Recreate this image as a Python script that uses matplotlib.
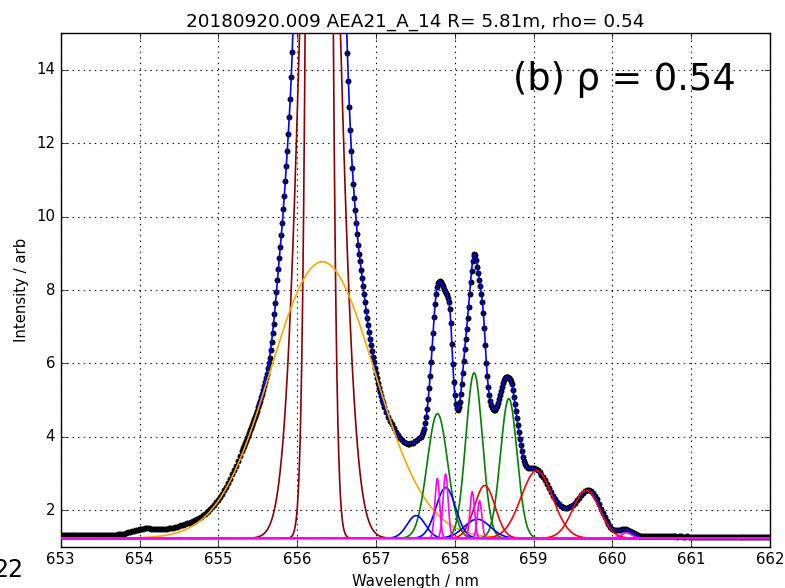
import numpy as np
import matplotlib
matplotlib.use("Agg")
import matplotlib.pyplot as plt

plt.style.use("classic")
plt.rcParams["font.family"] = ["DejaVu Sans"]

# ---------------- measured spectrum (black dots) ----------------
lam_tail_left = [653.000, 653.025, 653.050, 653.075, 653.100, 653.125, 653.150, 653.175, 653.200, 653.225,
                 653.250, 653.275, 653.300, 653.325, 653.350, 653.375, 653.400, 653.425, 653.450, 653.475,
                 653.500, 653.525, 653.550, 653.575, 653.600, 653.625, 653.650, 653.675, 653.700, 653.725,
                 653.750, 653.775, 653.800, 653.825, 653.850, 653.875, 653.900, 653.925, 653.950, 653.975,
                 654.000, 654.025, 654.050, 654.075, 654.100, 654.125, 654.150, 654.175, 654.200, 654.225,
                 654.250, 654.275, 654.300, 654.325, 654.350, 654.375, 654.400, 654.425, 654.450, 654.475,
                 654.500, 654.525, 654.550, 654.575, 654.600, 654.625, 654.650, 654.675, 654.700, 654.725,
                 654.750, 654.775, 654.800, 654.825, 654.850, 654.875, 654.900, 654.925, 654.950, 654.975]
int_tail_left = [1.33, 1.33, 1.33, 1.33, 1.33, 1.32, 1.32, 1.32, 1.32, 1.32,
                 1.32, 1.32, 1.32, 1.31, 1.31, 1.31, 1.31, 1.31, 1.31, 1.32,
                 1.32, 1.32, 1.32, 1.32, 1.32, 1.33, 1.33, 1.33, 1.33, 1.34,
                 1.34, 1.35, 1.36, 1.37, 1.39, 1.40, 1.42, 1.44, 1.45, 1.46,
                 1.47, 1.48, 1.49, 1.50, 1.50, 1.50, 1.49, 1.49, 1.48, 1.47,
                 1.47, 1.47, 1.47, 1.48, 1.49, 1.50, 1.51, 1.52, 1.54, 1.55,
                 1.57, 1.58, 1.60, 1.62, 1.64, 1.66, 1.68, 1.70, 1.73, 1.76,
                 1.79, 1.82, 1.86, 1.90, 1.94, 1.98, 2.03, 2.09, 2.15, 2.21]

lam_wing_left = [655.000, 655.025, 655.050, 655.075, 655.100, 655.125, 655.150, 655.175, 655.200,
                 655.225, 655.250, 655.275, 655.300]
int_wing_left = [2.28, 2.36, 2.45, 2.54, 2.64, 2.74, 2.85, 2.97, 3.09, 3.21, 3.34, 3.47, 3.61]

lam_halpha_left = [655.3125, 655.3250, 655.3375, 655.3500, 655.3625, 655.3750, 655.3875, 655.4000,
                   655.4125, 655.4250, 655.4375, 655.4500, 655.4625, 655.4750, 655.4875, 655.5000,
                   655.5125, 655.5250, 655.5375, 655.5500, 655.5625, 655.5750, 655.5875, 655.6000,
                   655.6125, 655.6250, 655.6375, 655.6500, 655.6625, 655.6750, 655.6875, 655.7000,
                   655.7125, 655.7250, 655.7375, 655.7500, 655.7625, 655.7750, 655.7875, 655.8000,
                   655.8125, 655.8250, 655.8375, 655.8500, 655.8625, 655.8750, 655.8875, 655.9000,
                   655.9125, 655.9250, 655.9375, 655.9500]
int_halpha_left = [3.68, 3.75, 3.82, 3.89, 3.96, 4.03, 4.10, 4.17,
                   4.25, 4.32, 4.40, 4.47, 4.55, 4.63, 4.71, 4.80,
                   4.89, 4.98, 5.07, 5.17, 5.27, 5.38, 5.49, 5.60,
                   5.72, 5.86, 6.00, 6.15, 6.36, 6.58, 6.82, 7.07,
                   7.34, 7.64, 7.95, 8.26, 8.56, 8.87, 9.18, 9.50,
                   9.84, 10.20, 10.57, 10.96, 11.37, 11.80, 12.25, 12.72,
                   13.22, 13.80, 14.48, 15.30]

lam_halpha_right = [656.6250, 656.6375, 656.6500, 656.6625, 656.6750, 656.6875, 656.7000, 656.7125,
                    656.7250, 656.7375, 656.7500, 656.7625, 656.7750, 656.7875, 656.8000, 656.8125,
                    656.8250, 656.8375, 656.8500, 656.8625, 656.8750, 656.8875, 656.9000, 656.9125,
                    656.9250, 656.9375, 656.9500, 656.9625, 656.9750, 656.9875, 657.0000, 657.0125,
                    657.0250, 657.0375, 657.0500, 657.0625, 657.0750, 657.0875, 657.1000]
int_halpha_right = [15.40, 14.45, 13.70, 12.98, 12.36, 11.80, 11.32, 10.90,
                    10.52, 10.17, 9.84, 9.53, 9.24, 8.99, 8.78, 8.55,
                    8.32, 8.10, 7.88, 7.66, 7.44, 7.23, 7.04, 6.85,
                    6.67, 6.50, 6.34, 6.18, 6.03, 5.88, 5.74, 5.60,
                    5.47, 5.34, 5.22, 5.11, 5.01, 4.91, 4.82]

lam_valley = [657.125, 657.150, 657.175, 657.200, 657.225, 657.250, 657.275, 657.300, 657.325,
              657.350, 657.375, 657.400, 657.425, 657.450, 657.475, 657.500, 657.525, 657.550,
              657.575]
int_valley = [4.67, 4.55, 4.44, 4.34, 4.24, 4.14, 4.05, 3.97, 3.91,
              3.86, 3.83, 3.81, 3.81, 3.82, 3.84, 3.87, 3.91, 3.96,
              4.00]

lam_cluster = [657.5875, 657.6000, 657.6125, 657.6250, 657.6375, 657.6500, 657.6625, 657.6750,
               657.6875, 657.7000, 657.7125, 657.7250, 657.7375, 657.7500, 657.7625, 657.7750,
               657.7875, 657.8000, 657.8125, 657.8250, 657.8375, 657.8500, 657.8625, 657.8750,
               657.8875, 657.9000, 657.9125, 657.9250, 657.9375, 657.9500, 657.9625, 657.9750,
               657.9875, 658.0000, 658.0125, 658.0250, 658.0375, 658.0500, 658.0625, 658.0750,
               658.0875, 658.1000, 658.1125, 658.1250, 658.1375, 658.1500, 658.1625, 658.1750,
               658.1875, 658.2000, 658.2125, 658.2250, 658.2375, 658.2500, 658.2625, 658.2750,
               658.2875, 658.3000, 658.3125, 658.3250, 658.3375, 658.3500, 658.3625, 658.3750,
               658.3875, 658.4000, 658.4125, 658.4250, 658.4375, 658.4500, 658.4625, 658.4750,
               658.4875, 658.5000, 658.5125, 658.5250, 658.5375, 658.5500, 658.5625, 658.5750,
               658.5875, 658.6000, 658.6125, 658.6250, 658.6375, 658.6500, 658.6625, 658.6750,
               658.6875, 658.7000, 658.7125, 658.7250, 658.7375, 658.7500, 658.7625, 658.7750,
               658.7875, 658.8000, 658.8125, 658.8250, 658.8375, 658.8500, 658.8625, 658.8750,
               658.8875, 658.9000]
int_cluster = [4.05, 4.12, 4.22, 4.36, 4.54, 4.76, 5.02, 5.32,
               5.66, 6.03, 6.42, 6.84, 7.26, 7.62, 7.90, 8.08,
               8.18, 8.23, 8.24, 8.21, 8.16, 8.10, 8.04, 7.98,
               7.92, 7.86, 7.79, 7.68, 7.48, 7.10, 6.52, 5.98,
               5.50, 5.13, 4.90, 4.77, 4.74, 4.80, 4.95, 5.17,
               5.44, 5.75, 6.07, 6.38, 6.66, 6.94, 7.24, 7.55,
               7.88, 8.22, 8.52, 8.78, 8.94, 8.99, 8.95, 8.83,
               8.64, 8.45, 8.28, 8.10, 7.88, 7.66, 7.38, 6.97,
               6.50, 6.02, 5.65, 5.36, 5.14, 4.98, 4.87, 4.80,
               4.76, 4.74, 4.74, 4.77, 4.84, 4.93, 5.04, 5.14,
               5.25, 5.36, 5.46, 5.54, 5.59, 5.62, 5.63, 5.63,
               5.61, 5.57, 5.51, 5.43, 5.28, 5.08, 4.88, 4.70,
               4.50, 4.32, 4.13, 3.94, 3.77, 3.61, 3.46, 3.34,
               3.26, 3.20]

lam_red_wing = [658.925, 658.950, 658.975, 659.000, 659.025, 659.050, 659.075, 659.100, 659.125,
                659.150, 659.175, 659.200, 659.225, 659.250, 659.275, 659.300, 659.325, 659.350,
                659.375, 659.400, 659.425, 659.450, 659.475, 659.500, 659.525, 659.550, 659.575,
                659.600, 659.625, 659.650, 659.675, 659.700, 659.725, 659.750, 659.775, 659.800,
                659.825, 659.850, 659.875, 659.900, 659.925, 659.950, 659.975, 660.000, 660.025,
                660.050, 660.075, 660.100, 660.125, 660.150, 660.175, 660.200, 660.225, 660.250,
                660.275, 660.300, 660.325, 660.350, 660.375, 660.400, 660.425]
int_red_wing = [3.15, 3.14, 3.14, 3.14, 3.12, 3.09, 3.03, 2.96, 2.89,
                2.81, 2.71, 2.60, 2.49, 2.39, 2.31, 2.23, 2.16, 2.11,
                2.07, 2.05, 2.05, 2.07, 2.10, 2.14, 2.20, 2.27, 2.34,
                2.40, 2.46, 2.51, 2.54, 2.54, 2.51, 2.46, 2.39, 2.29,
                2.16, 2.04, 1.92, 1.81, 1.71, 1.62, 1.54, 1.48, 1.46,
                1.45, 1.45, 1.46, 1.47, 1.47, 1.47, 1.45, 1.43, 1.40,
                1.37, 1.34, 1.31, 1.30, 1.29, 1.29, 1.29]

lam_tail_right = [660.450, 660.475, 660.500, 660.525, 660.550, 660.575, 660.600, 660.625, 660.650, 660.675,
                  660.700, 660.725, 660.750, 660.775, 660.800, 660.825, 660.850, 660.875, 660.900, 660.925,
                  660.950, 660.975, 661.000, 661.025, 661.050, 661.075, 661.100, 661.125, 661.150, 661.175,
                  661.200, 661.225, 661.250, 661.275, 661.300, 661.325, 661.350, 661.375, 661.400, 661.425,
                  661.450, 661.475, 661.500, 661.525, 661.550, 661.575, 661.600, 661.625, 661.650, 661.675,
                  661.700, 661.725, 661.750, 661.775, 661.800, 661.825, 661.850, 661.875, 661.900, 661.925,
                  661.950, 661.975, 662.000]
int_tail_right = [1.29, 1.29, 1.29, 1.28, 1.28, 1.28, 1.28, 1.28, 1.28, 1.28,
                  1.28, 1.28, 1.28, 1.28, 1.28, 1.27, 1.28, 1.28, 1.27, 1.27,
                  1.28, 1.27, 1.27, 1.27, 1.27, 1.27, 1.27, 1.27, 1.27, 1.27,
                  1.27, 1.27, 1.27, 1.26, 1.27, 1.27, 1.26, 1.27, 1.27, 1.27,
                  1.27, 1.26, 1.27, 1.26, 1.26, 1.26, 1.26, 1.27, 1.26, 1.26,
                  1.26, 1.26, 1.26, 1.26, 1.26, 1.26, 1.26, 1.26, 1.26, 1.26,
                  1.26, 1.26, 1.26]

# total fit (blue) follows the data from 655.5 nm and returns to the baseline
fit_start = 655.5
fit_end = 660.30
lam_fit_tail = [660.325, 660.350, 660.375, 660.400, 662.000]
int_fit_tail = [1.27, 1.245, 1.235, 1.23, 1.23]

# ---------------- fitted components (centre nm, height, sigma nm) ----------------
baseline = 1.23
comp_center = [656.29, 656.28, 656.32,
               657.78, 658.245, 658.685,
               658.38, 659.04, 659.667,
               657.51, 657.885, 658.285,
               657.778, 657.883, 658.222, 658.314, 660.18]
comp_height = [28.3, 100.0, 7.54,
               3.40, 4.51, 3.81,
               1.44, 1.84, 1.31,
               0.62, 1.38, 0.52,
               1.63, 1.75, 1.27, 1.02, 0.15]
comp_sigma = [0.216, 0.090, 0.66,
              0.13, 0.105, 0.105,
              0.13, 0.20, 0.17,
              0.115, 0.125, 0.165,
              0.030, 0.032, 0.029, 0.029, 0.07]
comp_color = ["#8b0000", "#8b0000", "orange",
              "green", "green", "green",
              "red", "red", "red",
              "blue", "blue", "blue",
              "magenta", "magenta", "magenta", "magenta", "magenta"]

title = "20180920.009 AEA21_A_14 R= 5.81m, rho= 0.54"
annot = "(b) \u03c1 = 0.54"

# ---------------- build ----------------
lam = np.concatenate([lam_tail_left, lam_wing_left, lam_halpha_left, lam_halpha_right,
                      lam_valley, lam_cluster, lam_red_wing, lam_tail_right])
inten = np.concatenate([int_tail_left, int_wing_left, int_halpha_left, int_halpha_right,
                        int_valley, int_cluster, int_red_wing, int_tail_right])
sel = (lam >= fit_start) & (lam <= fit_end)
fit_lam = np.concatenate([lam[sel], lam_fit_tail])
fit_int = np.concatenate([inten[sel], int_fit_tail])

fig = plt.figure(figsize=(7.85, 5.88), dpi=100, facecolor="white")
ax = fig.add_axes([0.0773, 0.0702, 0.9037, 0.8732])
ax.set_facecolor("white")

ax.plot(lam, inten, "k.", ms=7.5, zorder=2)
ax.plot(fit_lam, fit_int, color="blue", lw=1.2, zorder=3)

xx = np.linspace(653, 662, 3000)
for c, h, s, col in zip(comp_center, comp_height, comp_sigma, comp_color):
    ax.plot(xx, baseline + h * np.exp(-(xx - c) ** 2 / (2 * s ** 2)), color=col, lw=1.2, zorder=4)

ax.set_xlim(653, 662)
ax.set_ylim(1, 15)
ax.set_xticks(np.arange(653, 663, 1))
ax.set_yticks(np.arange(2, 15, 2))
ax.grid(True, color="black", linestyle=":", linewidth=0.8)
ax.tick_params(labelsize=10.7, direction="in", top=True, right=True)
ax.set_xlabel("Wavelength / nm", fontsize=10.7)
ax.set_ylabel("Intensity / arb", fontsize=10.7)
ax.set_title(title, fontsize=13.2)
ax.text(661.57, 13.44, annot, fontsize=26.5, ha="right", va="baseline")
fig.text(23 / 785, 1 - 570 / 588, "22", fontsize=17, ha="right", va="center")

fig.savefig("out.png", dpi=100, facecolor="white")
